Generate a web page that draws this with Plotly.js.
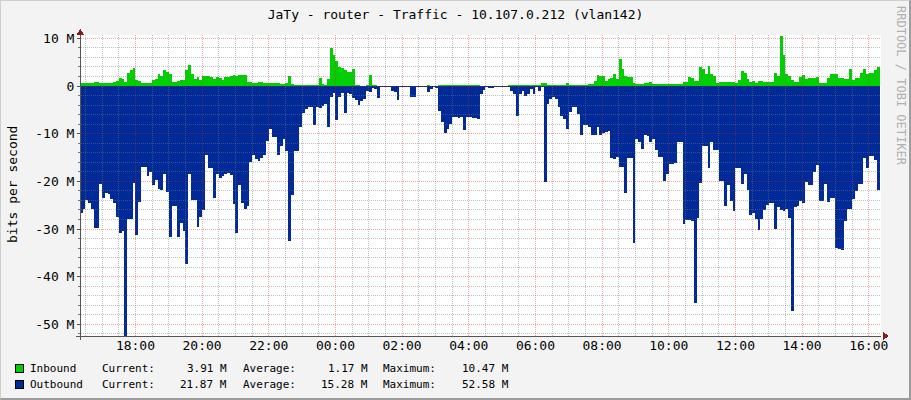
<!DOCTYPE html>
<html>
<head>
<meta charset="utf-8">
<script src="https://cdn.plot.ly/plotly-3.0.1.min.js"></script>
<style>
  html, body { margin:0; padding:0; background:#f3f3f3; }
  #wrap { position:relative; width:911px; height:400px; }
  #chart { width:911px; height:400px; }
  #frame { position:absolute; left:0; top:0; width:911px; height:400px; box-sizing:border-box;
           border-top:1px solid #cfcfcf; border-left:1px solid #cfcfcf;
           border-right:2px solid #9c9c9c; border-bottom:2px solid #9c9c9c; pointer-events:none; }
  #chart .shapelayer path, #chart .scatterlayer path { shape-rendering: crispEdges; }
</style>
</head>
<body>
<div id="wrap"><div id="chart"></div><div id="frame"></div></div>
<script>
// ---------------- data (Mbit/s, 5-minute steps starting 16:20) ----------------
const TITLE = 'JaTy - router - Traffic - 10.107.0.212 (vlan142)';
const Y_TITLE = 'bits per second';
const WATERMARK = 'RRDTOOL / TOBI OETIKER';
const SERIES_NAMES = ['Inbound', 'Outbound'];
const SERIES_COLORS = ['#00CF00', '#002A97'];

const INBOUND = [
 0.7,0.7,0.7,0.7,0.7,0.9,0.9,0.7,0.7,0.7,
 0.7,0.7,0.9,1.1,1.6,1.4,0.9,2.8,3.4,3.8,
 1.3,1.1,0.7,0.7,0.7,0.7,1.3,1.4,2.6,2.1,
 3.4,2.9,2.5,0.9,0.9,1.1,1.3,1.3,3.3,4.4,
 2.6,1.4,1.8,1.3,2.1,2.1,2.0,1.8,1.4,1.9,
 1.6,1.2,1.9,1.9,2.1,2.4,2.1,2.3,2.3,2.3,
 0.9,0.9,0.7,0.7,0.9,0.9,0.7,0.6,0.6,0.6,
 0.6,0.6,0.4,0.4,0.6,2.1,0.5,0.25,0.2,0.2,
 0.2,0.2,0.2,0.2,0.2,0.2,1.6,0.5,0.25,1.4,
 8.0,6.6,5.2,4.0,3.7,3.4,3.0,3.0,3.5,0.25,
 0.25,0.05,0.05,0.25,2.3,0.25,0.25,0.05,0.05,0.05,
 0.05,0.05,0.05,0.05,0.05,0.05,0.05,0.05,0.05,0.05,
 0.05,0.05,0.05,0.05,0.05,0.25,0.05,0.05,0.05,0.25,
 0.25,0.25,0.25,0.25,0.25,0.25,0.25,0.25,0.25,0.25,
 0.25,0.25,0.25,0.25,0.05,0.05,0.05,0.05,0.05,0.05,
 0.05,0.05,0.05,0.05,0.25,0.25,0.25,0.25,0.25,0.25,
 0.25,0.25,0.25,0.25,0.25,0.25,0.7,0.7,0.25,0.25,
 0.25,0.25,0.25,0.25,0.25,0.7,0.25,0.25,0.25,0.25,
 0.25,0.25,0.25,0.5,0.5,1.1,2.3,2.1,2.1,1.1,
 1.4,1.6,2.6,1.4,5.6,3.5,2.1,1.8,1.8,0.7,
 0.5,0.5,0.4,0.6,0.6,0.9,0.4,0.4,0.4,0.5,
 0.5,0.5,0.5,0.5,0.5,0.5,0.5,0.9,0.9,1.8,
 1.6,1.1,1.1,4.0,3.5,2.6,4.2,2.5,2.1,0.7,
 0.9,0.9,0.9,0.9,0.9,0.9,0.7,1.2,3.2,2.8,
 1.4,0.9,1.1,0.7,1.1,1.1,0.9,0.9,0.9,0.9,
 2.7,2.1,10.47,6.6,2.5,2.1,1.3,0.9,0.9,1.8,
 2.3,1.4,1.6,1.6,1.6,1.9,0.7,0.7,0.7,1.6,
 2.6,2.6,2.6,1.6,1.6,1.4,1.4,3.5,1.3,1.6,
 1.6,2.7,3.5,2.5,2.8,2.8,3.4,3.91
];

const OUTBOUND = [
 -26.7,-25.9,-23.9,-24.6,-25.9,-29.7,-29.8,-20.5,-23.4,-22.5,
 -22.7,-23.6,-24.6,-27.4,-30.9,-30.5,-52.58,-28.0,-28.0,-20.3,
 -31.2,-24.3,-17.0,-17.0,-18.9,-18.0,-20.7,-19.8,-21.6,-21.9,
 -18.4,-22.2,-31.7,-25.1,-25.1,-31.6,-28.8,-30.4,-37.3,-18.4,
 -23.9,-23.9,-29.5,-27.4,-26.0,-14.5,-17.3,-17.3,-23.4,-18.5,
 -19.3,-18.9,-18.4,-18.2,-18.7,-24.8,-30.9,-20.8,-24.6,-25.9,
 -25.1,-15.9,-14.4,-15.3,-15.8,-15.1,-14.4,-11.6,-9.1,-10.7,
 -10.7,-14.5,-12.5,-11.1,-13.6,-32.5,-22.9,-13.6,-13.6,-8.6,
 -5.7,-4.8,-4.3,-4.5,-8.2,-4.5,-4.6,-4.1,-3.8,-8.5,
 -2.4,-1.4,-7.1,-2.4,-1.5,-5.7,-1.4,-1.7,-2.6,-3.0,
 -3.9,-3.1,-2.7,-1.0,-1.35,-0.45,-0.7,-2.5,-0.3,-0.2,
 -0.2,-0.2,-1.0,-1.35,-3.0,-0.3,-0.2,-0.2,-0.2,-2.4,
 -2.4,-0.2,-0.2,-0.2,-0.2,-1.35,-0.7,-0.3,-0.45,-5.2,
 -7.6,-9.9,-9.0,-8.0,-6.4,-6.6,-6.7,-6.4,-9.3,-6.4,
 -6.6,-6.7,-6.8,-7.0,-1.6,-0.9,-0.3,-0.45,-0.45,-0.2,
 -0.2,-0.3,-0.2,-0.2,-0.3,-1.0,-1.7,-6.2,-1.6,-1.0,
 -2.0,-1.7,-0.7,-1.7,-0.2,-1.0,-0.3,-20.2,-3.8,-2.7,
 -2.4,-2.7,-4.3,-6.2,-6.9,-9.1,-5.5,-4.5,-4.5,-5.9,
 -10.2,-8.2,-8.2,-8.5,-10.2,-10.2,-8.5,-10.2,-9.9,-9.7,
 -9.4,-15.2,-15.4,-14.9,-17.0,-17.0,-22.5,-15.2,-15.2,-33.0,
 -11.1,-11.8,-13.2,-10.2,-10.4,-11.8,-11.1,-13.5,-14.9,-14.9,
 -20.0,-18.4,-16.4,-16.3,-16.1,-11.8,-11.8,-28.9,-28.1,-28.2,
 -28.4,-45.6,-27.7,-20.3,-12.5,-12.5,-17.1,-11.8,-13.5,-13.5,
 -20.0,-20.0,-25.2,-20.8,-24.1,-26.2,-17.3,-17.3,-20.6,-18.4,
 -21.8,-27.0,-26.7,-27.9,-30.3,-27.9,-26.0,-25.0,-24.5,-24.5,
 -30.0,-25.3,-26.0,-26.2,-25.9,-27.6,-47.2,-25.3,-25.1,-24.1,
 -24.6,-20.1,-20.8,-20.8,-18.0,-16.5,-24.1,-24.1,-20.5,-24.4,
 -23.4,-23.4,-34.0,-34.2,-34.5,-28.4,-25.9,-25.9,-23.8,-22.0,
 -20.5,-20.5,-15.1,-17.3,-14.6,-14.6,-15.6,-21.87
];

const LEGEND_CURRENT = ['3.91 M', '21.87 M'];
const LEGEND_AVERAGE = ['1.17 M', '15.28 M'];
const LEGEND_MAXIMUM = ['10.47 M', '52.58 M'];
const LEGEND_LABELS = ['Current:', 'Average:', 'Maximum:'];

const Y_TICK_VALS = [10, 0, -10, -20, -30, -40, -50];
const Y_TICK_TEXT = ['10 M', '0', '-10 M', '-20 M', '-30 M', '-40 M', '-50 M'];

// ---------------- time axis ----------------
const MIN = 60000;
const STEP_MS = 5 * MIN;
const DATA_START = Date.UTC(2024, 0, 1, 16, 20);
const RANGE_START = Date.UTC(2024, 0, 1, 16, 22);
const RANGE_END = Date.UTC(2024, 0, 2, 16, 22);
const FIRST_LABEL = Date.UTC(2024, 0, 1, 18, 0);
const FIRST_MINOR = Date.UTC(2024, 0, 1, 16, 30);
const fmt = ms => new Date(ms).toISOString().slice(0, 19).replace('T', ' ');

// step series: one extra closing point so the last 5-minute step is drawn
const times = [];
for (let i = 0; i <= INBOUND.length; i++) times.push(fmt(DATA_START + i * STEP_MS));
const inY = INBOUND.concat([INBOUND[INBOUND.length - 1]]);
const outY = OUTBOUND.concat([OUTBOUND[OUTBOUND.length - 1]]);

// ---------------- geometry ----------------
const W = 911, H = 400, L = 81, R = 881, T = 35, B = 336;
const px2x = p => (p - L) / (R - L);
const py2y = p => (B - p) / (B - T);
const Y_RANGE = [-52.44, 10.70];
const FONT = 'DejaVu Sans Mono';

// ---------------- grid (drawn above the areas, like rrdtool) ----------------
const shapes = [];
const MINOR_COL = 'rgba(120,120,120,0.45)';
const MAJOR_COL = 'rgba(225,30,30,0.40)';
for (let v = -52; v <= 10; v += 2) {
  const major = (v % 10 === 0);
  shapes.push({type:'line', layer:'above', xref:'paper', yref:'y', x0:0, x1:1, y0:v, y1:v,
    line:{color: major ? MAJOR_COL : MINOR_COL, width:1, dash:'1px,1px'}});
}
for (let t = FIRST_MINOR; t < RANGE_END; t += 30 * MIN) {
  const major = ((t - FIRST_LABEL) % (120 * MIN) === 0);
  shapes.push({type:'line', layer:'above', xref:'x', yref:'paper', x0:fmt(t), x1:fmt(t), y0:0, y1:1,
    line:{color: major ? MAJOR_COL : MINOR_COL, width:1, dash:'1px,1px'}});
}
// axis extensions and arrows
shapes.push({type:'line', layer:'above', xref:'paper', yref:'paper', x0:px2x(76), x1:0, y0:0, y1:0,
  line:{color:'#555', width:1}});
shapes.push({type:'line', layer:'above', xref:'paper', yref:'paper', x0:px2x(80.5), x1:px2x(80.5), y0:0, y1:py2y(340),
  line:{color:'#555', width:1}});
shapes.push({type:'path', layer:'above', xref:'paper', yref:'paper', xsizemode:'pixel', ysizemode:'pixel',
  xanchor:0, yanchor:1, path:'M-4.5,0 L3.5,0 L-0.5,6 Z', fillcolor:'#8c1a1a', line:{width:0}});
shapes.push({type:'path', layer:'above', xref:'paper', yref:'paper', xsizemode:'pixel', ysizemode:'pixel',
  xanchor:1, yanchor:0, path:'M2,-4 L2,4 L8,0 Z', fillcolor:'#8c1a1a', line:{width:0}});

// ---------------- legend ----------------
const annotations = [];
const legendRows = [368.3, 384.3];
const vals = [LEGEND_CURRENT, LEGEND_AVERAGE, LEGEND_MAXIMUM];
const labelLeft = [101.7, 242.7, 383.3];
const valueRight = [226.7, 367.7, 509];
const legFont = {family: FONT, size: 11, color: '#000'};
SERIES_NAMES.forEach((name, r) => {
  const yc = legendRows[r];
  shapes.push({type:'rect', xref:'paper', yref:'paper', x0:px2x(15), x1:px2x(23), y0:py2y(yc + 4), y1:py2y(yc - 4),
    fillcolor: SERIES_COLORS[r], line:{color:'#000', width:1}});
  annotations.push({text:name, xref:'paper', yref:'paper', x:px2x(29), y:py2y(yc), xanchor:'left', yanchor:'middle',
    showarrow:false, font:legFont, borderpad:0});
  LEGEND_LABELS.forEach((lab, c) => {
    annotations.push({text:lab, xref:'paper', yref:'paper', x:px2x(labelLeft[c] - 1), y:py2y(yc), xanchor:'left', yanchor:'middle',
      showarrow:false, font:legFont, borderpad:0});
    annotations.push({text:vals[c][r], xref:'paper', yref:'paper', x:px2x(valueRight[c] + 1), y:py2y(yc), xanchor:'right', yanchor:'middle',
      showarrow:false, font:legFont, borderpad:0});
  });
});
annotations.push({text:Y_TITLE, xref:'paper', yref:'paper', x:px2x(12), y:py2y(185), textangle:-90,
  xanchor:'center', yanchor:'middle', showarrow:false, font:{family:FONT, size:13, color:'#000'}});
annotations.push({text:WATERMARK, xref:'paper', yref:'paper', x:px2x(901), y:py2y(4), textangle:90,
  xanchor:'center', yanchor:'top', showarrow:false, font:{family:FONT, size:12, color:'#b0b0b0'}});

// ---------------- traces ----------------
const traces = [
  {x: times, y: outY, name: SERIES_NAMES[1], type:'scatter', mode:'lines', fill:'tozeroy',
   fillcolor: SERIES_COLORS[1], line:{width:0, shape:'hv', color:SERIES_COLORS[1]}, hoverinfo:'skip'},
  {x: times, y: inY, name: SERIES_NAMES[0], type:'scatter', mode:'lines', fill:'tozeroy',
   fillcolor: SERIES_COLORS[0], line:{width:0, shape:'hv', color:SERIES_COLORS[0]}, hoverinfo:'skip'}
];

const layout = {
  width: W, height: H,
  margin: {l: L, r: W - R, t: T, b: H - B, pad: 0},
  paper_bgcolor: '#f3f3f3',
  plot_bgcolor: '#ffffff',
  showlegend: false,
  title: {text: TITLE, font:{family:FONT, size:13, color:'#000'}, x:0.5, xanchor:'center', xref:'container',
          y: 1 - 14 / H, yref:'container', yanchor:'middle'},
  xaxis: {type:'date', range:[fmt(RANGE_START), fmt(RANGE_END)], showgrid:false, zeroline:false,
          tickmode:'linear', tick0: fmt(FIRST_LABEL), dtick: 120 * MIN, tickformat:'%H:%M',
          ticks:'', showline:true, linecolor:'#555', linewidth:1, ticklabelstandoff:-3,
          tickfont:{family:FONT, size:13, color:'#000'}, fixedrange:true},
  yaxis: {range: Y_RANGE, showgrid:false, zeroline:false, tickmode:'array', tickvals:Y_TICK_VALS, ticktext:Y_TICK_TEXT,
          ticks:'outside', ticklen:3, tickcolor:'#555', showline:true, linecolor:'#555', linewidth:1,
          minor:{tick0:0, dtick:2, ticks:'outside', ticklen:2, tickcolor:'#777', showgrid:false},
          tickfont:{family:FONT, size:13, color:'#000'}, fixedrange:true},
  shapes: shapes,
  annotations: annotations
};

Plotly.newPlot('chart', traces, layout, {staticPlot:true, displayModeBar:false});
</script>
</body>
</html>
